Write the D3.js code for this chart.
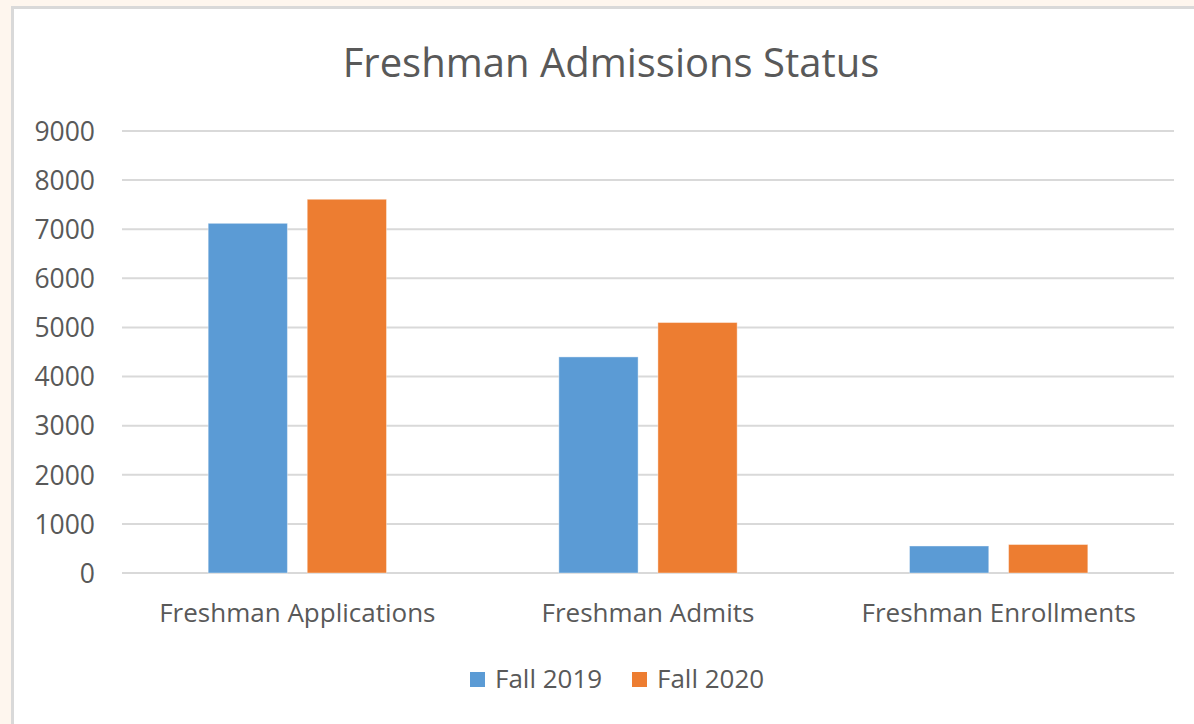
<!DOCTYPE html>
<html lang="en">
<head>
<meta charset="utf-8"/>
<title>Freshman Admissions Status</title>
<script src="https://d3js.org/d3.v7.min.js"></script>
<style>
    body { margin: 0; background: #fef6ee; overflow: hidden; }
    svg { display: block; }
    text { font-family: "Open Sans", sans-serif; fill: #595959; }
</style>
</head>
<body>
<svg id="chart" width="1194" height="724"></svg>
<script>
    // datos del gráfico
    const categories = ["Freshman Applications", "Freshman Admits", "Freshman Enrollments"];
    const seriesNames = ["Fall 2019", "Fall 2020"];
    const fall2019 = [7120, 4400, 550];
    const fall2020 = [7610, 5100, 580];
    const yTicks = [0, 1000, 2000, 3000, 4000, 5000, 6000, 7000, 8000, 9000];
    const colors = ["#5b9bd5", "#ed7d31"];

    const svg = d3.select("#chart");

    // panel blanco con borde gris
    svg.append("rect")
        .attr("x", 12.5).attr("y", 7.5)
        .attr("width", 1200).attr("height", 740)
        .attr("fill", "#fff")
        .attr("stroke", "#d9d9d9")
        .attr("stroke-width", 3);

    const plot = {left: 122, right: 1174, top: 131, bottom: 573};

    const y = d3.scaleLinear()
        .domain([0, 9000])
        .range([plot.bottom, plot.top]);

    const x0 = d3.scaleBand()
        .domain(categories)
        .range([plot.left, plot.right]);

    const x1 = d3.scaleBand()
        .domain(seriesNames)
        .range([0, x0.bandwidth()])
        .paddingInner(0.2)
        .paddingOuter(0.87);

    // grilla
    svg.append("g").selectAll("line")
        .data(yTicks).enter()
        .append("line")
        .attr("x1", plot.left).attr("x2", plot.right)
        .attr("y1", d => y(d)).attr("y2", d => y(d))
        .attr("stroke", "#d9d9d9")
        .attr("stroke-width", 2);

    // eje y
    const yAxis = svg.append("g")
        .attr("transform", `translate(${plot.left - 27},0)`)
        .call(d3.axisLeft(y).tickValues(yTicks).tickFormat(d3.format("d")).tickSize(0).tickPadding(0));
    yAxis.select(".domain").remove();
    yAxis.selectAll("text")
        .attr("fill", "#595959")
        .style("font-size", "26.5px")
        .style("font-family", "'Open Sans', sans-serif")
        .attr("dy", "0.35em");

    // barras
    const rows = categories.map((c, i) => ({cat: c, values: [fall2019[i], fall2020[i]]}));
    const groups = svg.append("g").selectAll("g")
        .data(rows).enter()
        .append("g")
        .attr("transform", d => `translate(${x0(d.cat)},0)`);

    groups.selectAll("rect")
        .data(d => d.values.map((v, j) => ({name: seriesNames[j], value: v, color: colors[j]})))
        .enter()
        .append("rect")
        .attr("x", d => x1(d.name))
        .attr("width", x1.bandwidth())
        .attr("y", d => y(d.value))
        .attr("height", d => y(0) - y(d.value))
        .attr("fill", d => d.color)
        .attr("stroke", "#fff")
        .attr("stroke-opacity", 0.4)
        .attr("stroke-width", 1);

    // eje x
    const xAxis = svg.append("g")
        .attr("transform", `translate(0,${plot.bottom})`)
        .call(d3.axisBottom(x0).tickSize(0).tickPadding(0));
    xAxis.select(".domain").remove();
    xAxis.selectAll("text")
        .attr("fill", "#595959")
        .attr("y", 49)
        .attr("dy", 0)
        .style("font-size", "26px")
        .style("font-family", "'Open Sans', sans-serif");

    // título
    svg.append("text")
        .attr("x", 611).attr("y", 77)
        .attr("text-anchor", "middle")
        .style("font-size", "40px")
        .text("Freshman Admissions Status");

    // leyenda
    const legendX = [470, 632];
    const legend = svg.append("g").selectAll("g")
        .data(seriesNames).enter()
        .append("g")
        .attr("transform", (d, i) => `translate(${legendX[i]},672)`);
    legend.append("rect")
        .attr("width", 15).attr("height", 15)
        .attr("fill", (d, i) => colors[i]);
    legend.append("text")
        .attr("x", 25).attr("y", 16)
        .style("font-size", "26px")
        .text(d => d);
</script>
</body>
</html>
